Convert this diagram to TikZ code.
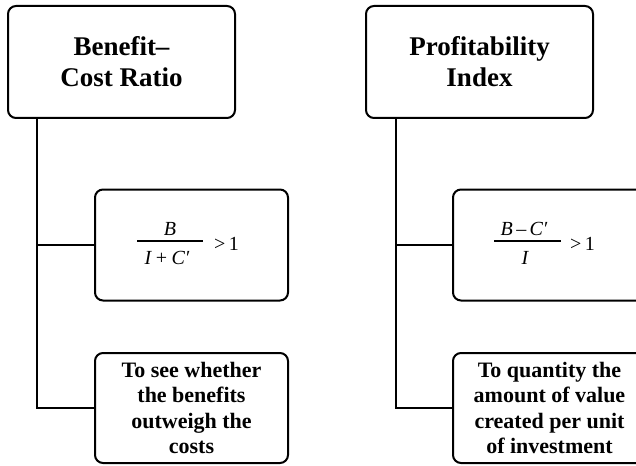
\documentclass[tikz,border=0pt]{standalone}
\usepackage{fontspec}
\setmainfont{Liberation Serif}
\begin{document}
\begin{tikzpicture}[x=1pt,y=-1pt,
  box/.style={draw=black,line width=2pt,rounded corners=8pt,align=center,inner sep=0pt,fill=white},
  titlebox/.style={box,minimum width=227pt,minimum height=112pt,font=\bfseries\fontsize{27}{31}\selectfont},
  formbox/.style={box,minimum width=193pt,minimum height=111pt},
  textbox/.style={box,minimum width=193pt,minimum height=110pt,font=\bfseries\fontsize{22}{25.5}\selectfont},
  mtxt/.style={anchor=base,inner sep=0pt,font=\itshape\fontsize{20}{22}\selectfont},
  rtxt/.style={anchor=base west,inner sep=0pt,font=\fontsize{20}{22}\selectfont},
  bar/.style={draw=black,line width=1.3pt},
  conn/.style={draw=black,line width=2pt}]
\path[use as bounding box] (0,0) rectangle (636,465);
\fill[white] (0,0) rectangle (636,465);
\clip (0,0) rectangle (636,465);
% left column
\node[titlebox] (t1) at (121.5,62) {Benefit–\\Cost Ratio};
\node[formbox] (f1) at (191.5,245) {};
\node[mtxt] (n1) at (170,235) {B};
\node[mtxt] (d1) at (167,264) {I\,+\,C′};
\coordinate (b1a) at (137,241);
\coordinate (b1b) at (203,241);
\draw[bar] (b1a) -- (b1b);
\node[rtxt] (g1) at (214,250) {>\,1};
\node[textbox] (x1) at (191.5,408) {To see whether\\the benefits\\outweigh the\\costs};
\coordinate (s1) at (37,118);
% right column
\node[titlebox] (t2) at (479.5,62) {Profitability\\Index};
\node[formbox] (f2) at (549.5,245) {};
\node[mtxt] (n2) at (524,235) {B\,–\,C′};
\node[mtxt] (d2) at (525,264) {I};
\coordinate (b2a) at (494,241);
\coordinate (b2b) at (561,241);
\draw[bar] (b2a) -- (b2b);
\node[rtxt] (g2) at (570,250) {>\,1};
\node[textbox] (x2) at (549.5,408) {To quantity the\\amount of value\\created per unit\\of investment};
\coordinate (s2) at (396,118);
% connectors
\draw[conn] (s1) |- (x1.west);
\draw[conn] (s1 |- f1.west) -- (f1.west);
\draw[conn] (s2) |- (x2.west);
\draw[conn] (s2 |- f2.west) -- (f2.west);
\end{tikzpicture}
\end{document}
